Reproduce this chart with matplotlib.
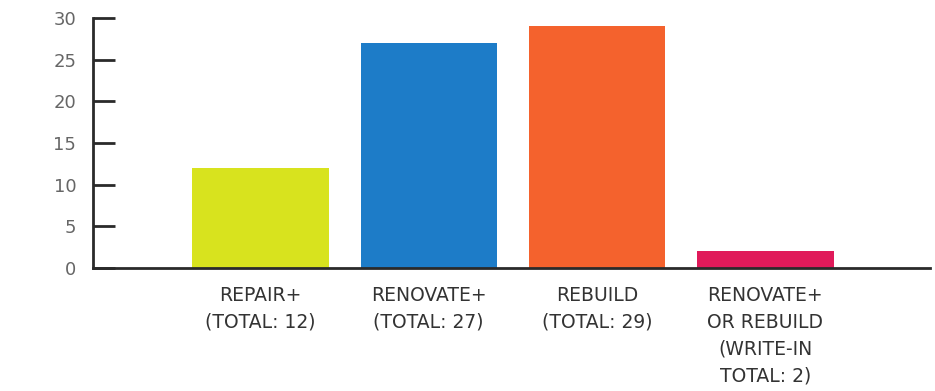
import matplotlib
matplotlib.use('Agg')
from matplotlib import pyplot as plt

plt.rcParams['font.family'] = ['DejaVu Sans']

categories = ['REPAIR+\n(TOTAL: 12)',
              'RENOVATE+\n(TOTAL: 27)',
              'REBUILD\n(TOTAL: 29)',
              'RENOVATE+\nOR REBUILD\n(WRITE-IN\nTOTAL: 2)']
totals = [12, 27, 29, 2]
colors = ['#d8e31e', '#1d7cc8', '#f4622d', '#e01a5a']
yticks = [0, 5, 10, 15, 20, 25, 30]

fig = plt.figure(figsize=(9.35, 3.91), dpi=100)
ax = fig.add_axes([0.0995, 0.3146, 0.8955, 0.6394])

xx = range(len(totals))
ax.bar(xx, totals, width=0.81, color=colors)

ax.set_xlim(-0.994, 3.98)
ax.set_ylim(0, 30)

for s in ['top', 'right']:
  ax.spines[s].set_visible(False)
for s in ['left', 'bottom']:
  ax.spines[s].set_linewidth(2)
  ax.spines[s].set_color('#2a2a2a')

ax.set_yticks(yticks)
ax.tick_params('y', direction='in', length=16, width=2, color='#2a2a2a',
               labelsize=13, labelcolor='#666666', pad=12)
ax.set_xticks(list(xx))
ax.set_xticklabels(categories, fontsize=13.5, color='#333333',
                   linespacing=1.52)
ax.tick_params('x', length=0, pad=13)

fig.savefig('out.png', dpi=100)
